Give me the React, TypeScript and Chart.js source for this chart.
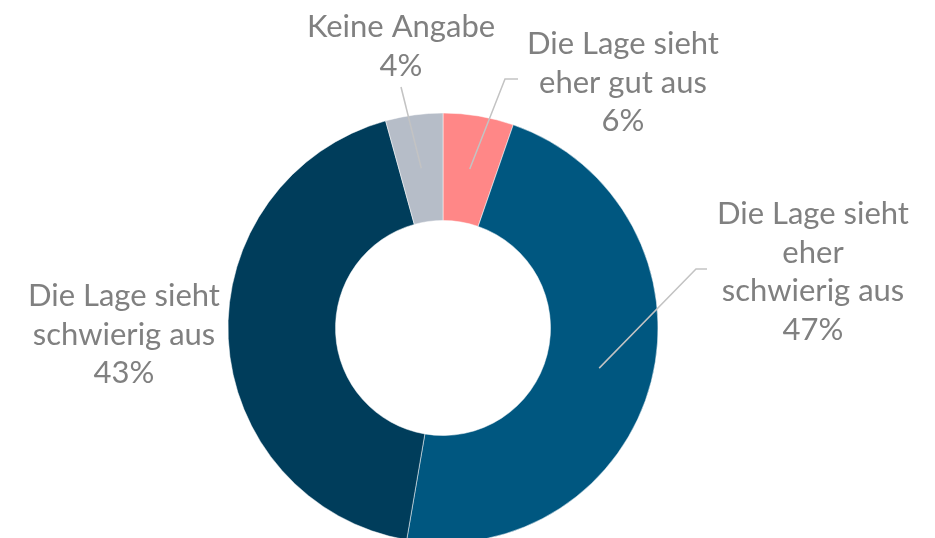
import React, { useEffect, useRef } from "react";
import { Chart, registerables } from "chart.js";

Chart.register(...registerables);

const categories = [
  "Die Lage sieht eher gut aus",
  "Die Lage sieht eher schwierig aus",
  "Die Lage sieht schwierig aus",
  "Keine Angabe",
];
const values = [5.3, 47.4, 43.0, 4.3];
const percentLabels = ["6%", "47%", "43%", "4%"];
const labelLines = [
  ["Die Lage sieht", "eher gut aus"],
  ["Die Lage sieht", "eher", "schwierig aus"],
  ["Die Lage sieht", "schwierig aus"],
  ["Keine Angabe"],
];
const colors = ["#FF8787", "#005780", "#003D5B", "#B6BDC8"];

// label layout: text centre x, first line centre y, optional leader elbow / end
const labelLayout = [
  { x: 623, y: 44, elbow: [505, 79], end: [518, 79] },
  { x: 813, y: 214, elbow: [696, 269], end: [707, 269] },
  { x: 124, y: 296, elbow: null, end: null },
  { x: 401, y: 27, elbow: null, end: [401, 87] },
];

const labelPlugin = {
  id: "outerLabels",
  afterDatasetsDraw(chart: any) {
    const ctx = chart.ctx;
    const meta = chart.getDatasetMeta(0);
    ctx.save();
    meta.data.forEach((arc: any, i: number) => {
      const lay = labelLayout[i];
      if (lay.end) {
        const p = arc.tooltipPosition();
        ctx.beginPath();
        ctx.strokeStyle = "#C3C3C3";
        ctx.lineWidth = 1.5;
        ctx.moveTo(p.x, p.y);
        if (lay.elbow) ctx.lineTo(lay.elbow[0], lay.elbow[1]);
        ctx.lineTo(lay.end[0], lay.end[1]);
        ctx.stroke();
      }
      const lines = [...labelLines[i], percentLabels[i]];
      ctx.fillStyle = "#808080";
      ctx.font = "31px Lato";
      ctx.textAlign = "center";
      ctx.textBaseline = "middle";
      lines.forEach((t, k) => {
        ctx.fillText(t, lay.x, lay.y + k * 38.5);
      });
    });
    ctx.restore();
  },
};

export default function App() {
  const ref = useRef<HTMLCanvasElement>(null);
  useEffect(() => {
    if (!ref.current) return;
    const chart = new Chart(ref.current, {
      type: "doughnut",
      data: {
        labels: categories,
        datasets: [
          {
            data: values,
            backgroundColor: colors,
            borderColor: "#ffffff",
            borderWidth: 0.5,
            hoverOffset: 0,
            offset: 0,
          },
        ],
      },
      options: {
        animation: false,
        responsive: false,
        maintainAspectRatio: false,
        radius: 215,
        cutout: "50%",
        layout: { padding: { left: 0, right: 49, top: 96, bottom: 0 } },
        plugins: {
          legend: { display: false },
          tooltip: { enabled: false },
        },
      },
      plugins: [labelPlugin],
    });
    if ((document as any).fonts) {
      (document as any).fonts.load("31px Lato").then(() => chart.update());
    }
    return () => chart.destroy();
  }, []);
  return (
    <div style={{ position: "absolute", left: 0, top: 0, width: 935, height: 538, overflow: "hidden", background: "#fff" }}>
      <canvas ref={ref} width={935} height={560} style={{ display: "block", width: 935, height: 560 }} />
    </div>
  );
}
